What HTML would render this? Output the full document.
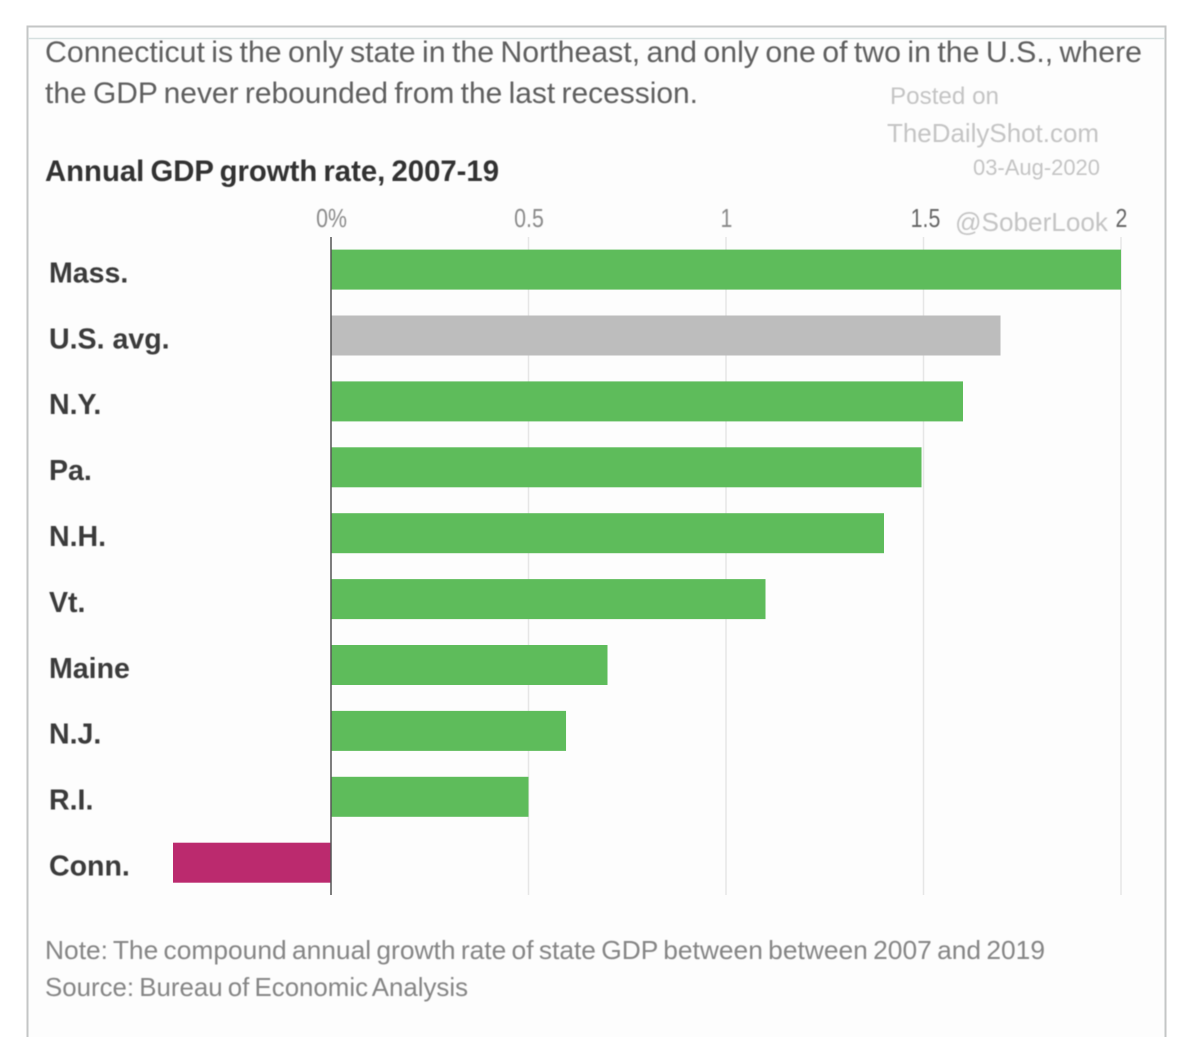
<!DOCTYPE html>
<html lang="en">
<head>
<meta charset="utf-8">
<title>Annual GDP growth rate, 2007-19</title>
<style>
html,body{margin:0;padding:0;background:#fff;width:1200px;height:1037px;overflow:hidden}
svg{display:block;font-family:"Liberation Sans",sans-serif}
</style>
</head>
<body>
<svg id="chart" width="1200" height="1037" viewBox="0 0 1200 1037" xmlns="http://www.w3.org/2000/svg">
  <defs><filter id="soft" x="-5%" y="-5%" width="110%" height="110%"><feGaussianBlur stdDeviation="0.65"/></filter></defs>
  <rect width="1200" height="1037" fill="#ffffff"/>
  <path d="M27.5 1037V26.5H1165.5V1037" fill="#fdfdfd" stroke="#c4c6c6" stroke-width="2"/>
  <line x1="28" x2="1165" y1="38.5" y2="38.5" stroke="#d6e0e0" stroke-width="1.5"/>
  <g id="text-layer" filter="url(#soft)">
    <text x="45" y="62" font-size="30" word-spacing="-2" fill="#5e5e5e" textLength="1097" lengthAdjust="spacingAndGlyphs">Connecticut is the only state in the Northeast, and only one of two in the U.S., where</text>
    <text x="45" y="103" font-size="30" word-spacing="-2" fill="#5e5e5e" textLength="653" lengthAdjust="spacingAndGlyphs">the GDP never rebounded from the last recession.</text>
    <text x="45" y="181" font-size="30" font-weight="700" word-spacing="-2" fill="#333333" textLength="454" lengthAdjust="spacingAndGlyphs">Annual GDP growth rate, 2007-19</text>
    <text x="890" y="104" font-size="24" fill="#c4c4c4" textLength="109" lengthAdjust="spacingAndGlyphs">Posted on</text>
    <text x="887" y="142" font-size="26" fill="#c4c4c4" textLength="212" lengthAdjust="spacingAndGlyphs">TheDailyShot.com</text>
    <text x="973" y="175" font-size="22" fill="#c4c4c4" textLength="127" lengthAdjust="spacingAndGlyphs">03-Aug-2020</text>
    <text x="955" y="231" font-size="26" fill="#c4c4c4" textLength="153" lengthAdjust="spacingAndGlyphs">@SoberLook</text>
    <text x="45" y="959" font-size="26" word-spacing="-2" fill="#858585" textLength="1000" lengthAdjust="spacingAndGlyphs">Note: The compound annual growth rate of state GDP between between 2007 and 2019</text>
    <text x="45" y="996" font-size="26" word-spacing="-2" fill="#858585" textLength="423" lengthAdjust="spacingAndGlyphs">Source: Bureau of Economic Analysis</text>
  </g>
  <g id="grid"></g>
  <g id="bars"></g>
  <g id="ticks" filter="url(#soft)"></g>
  <g id="labels" filter="url(#soft)"></g>
  <line id="zero" stroke="#555555" stroke-width="1.5"/>
</svg>
<script>
const categories = ["Mass.", "U.S. avg.", "N.Y.", "Pa.", "N.H.", "Vt.", "Maine", "N.J.", "R.I.", "Conn."];
const growthValues = [2.0, 1.695, 1.6, 1.495, 1.4, 1.1, 0.7, 0.595, 0.5, -0.4];
const tickValues = [0, 0.5, 1, 1.5, 2];
const tickLabels = ["0%", "0.5", "1", "1.5", "2"];

const NS = "http://www.w3.org/2000/svg";
const xScale = v => 331 + v * 395;
const yScale = i => 249.6 + i * 65.9;
const barHeight = 40;
const barColor = (name, v) => v < 0 ? "#bb2a6e" : (name === "U.S. avg." ? "#bdbdbd" : "#5ebc5b");

function make(tag, attrs, parent, text) {
  const el = document.createElementNS(NS, tag);
  for (const k in attrs) el.setAttribute(k, attrs[k]);
  if (text !== undefined) el.textContent = text;
  parent.appendChild(el);
  return el;
}

const gridG = document.getElementById("grid");
const ticksG = document.getElementById("ticks");
tickValues.forEach((t, i) => {
  if (t !== 0) {
    const gl = make("line", {x1: xScale(t), x2: xScale(t), y1: 237, y2: 895, stroke: "#e6e6e6", "stroke-width": 1.5}, gridG);
    
    
  }
  const cx = xScale(t) + (t === 1.5 ? 2 : 0.5);
  const tl = make("text", {
    x: cx, y: 227, "font-size": 26, "text-anchor": "middle",
    fill: t >= 1.5 ? "#666666" : "#8a8a8a"
  }, ticksG, tickLabels[i]);
  
  
  tl.setAttribute('transform', 'translate(' + cx + ' 0) scale(0.82 1) translate(' + (-cx) + ' 0)');
});

const barsG = document.getElementById("bars");
const labelsG = document.getElementById("labels");
categories.forEach((name, i) => {
  const v = growthValues[i];
  const x0 = xScale(Math.min(0, v));
  const x1 = xScale(Math.max(0, v));
  const bar = make("rect", {x: x0, y: yScale(i), width: x1 - x0, height: barHeight, fill: barColor(name, v)}, barsG);
  
  
  const lab = make("text", {
    x: 49, y: yScale(i) + 32.8, "font-size": 29, "font-weight": 700, fill: "#3a3a3a"
  }, labelsG, name);
  
  
  lab.setAttribute('transform', 'translate(49 0) scale(0.985 1) translate(-49 0)');
});

const zero = document.getElementById("zero");
zero.setAttribute("x1", xScale(0));
zero.setAttribute("x2", xScale(0));
zero.setAttribute("y1", 237);
zero.setAttribute("y2", 895);
</script>
</body>
</html>
